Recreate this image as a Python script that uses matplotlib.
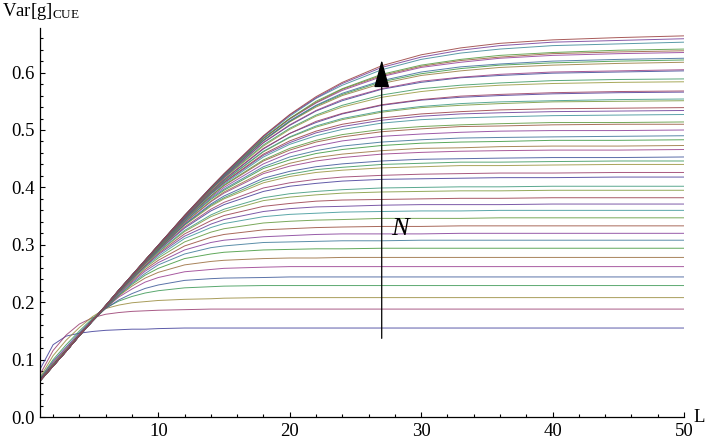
#!/usr/bin/env python3
"""Var[g]_CUE vs L for N = 2..50 (Mathematica-style ListLinePlot)."""

import colorsys

import matplotlib
matplotlib.use("Agg")
import matplotlib.pyplot as plt
import numpy as np

plt.rcParams["font.family"] = ["Liberation Serif", "DejaVu Serif"]
plt.rcParams["mathtext.fontset"] = "custom"
plt.rcParams["mathtext.rm"] = "Liberation Serif"
plt.rcParams["mathtext.it"] = "Liberation Serif:italic"

# ----- data -----
L_grid = [1, 2, 3, 4, 5, 6, 7, 8, 9, 10, 12, 14, 15, 18, 20, 22, 24, 27, 30, 33, 36, 40, 45, 50]
N_values = list(range(2, 51))

var_g = [
    [0.083, 0.126, 0.141, 0.146, 0.149, 0.151, 0.152, 0.153, 0.153, 0.154, 0.155, 0.155, 0.155, 0.155, 0.155, 0.155, 0.155, 0.155, 0.155, 0.155, 0.155, 0.155, 0.155, 0.155],  # N=2
    [0.074, 0.116, 0.143, 0.162, 0.173, 0.179, 0.182, 0.184, 0.185, 0.186, 0.187, 0.188, 0.188, 0.188, 0.188, 0.188, 0.188, 0.188, 0.188, 0.188, 0.188, 0.188, 0.188, 0.188],
    [0.069, 0.107, 0.134, 0.156, 0.175, 0.189, 0.195, 0.199, 0.201, 0.203, 0.205, 0.206, 0.207, 0.208, 0.208, 0.208, 0.208, 0.208, 0.208, 0.208, 0.208, 0.208, 0.208, 0.208],
    [0.067, 0.100, 0.126, 0.150, 0.172, 0.190, 0.202, 0.210, 0.216, 0.220, 0.225, 0.227, 0.228, 0.229, 0.229, 0.229, 0.229, 0.229, 0.229, 0.229, 0.229, 0.229, 0.229, 0.229],
    [0.066, 0.097, 0.122, 0.147, 0.170, 0.189, 0.204, 0.215, 0.224, 0.230, 0.238, 0.241, 0.242, 0.243, 0.244, 0.244, 0.244, 0.244, 0.244, 0.244, 0.244, 0.244, 0.244, 0.244],
    [0.065, 0.095, 0.120, 0.145, 0.169, 0.190, 0.209, 0.223, 0.235, 0.243, 0.253, 0.257, 0.259, 0.261, 0.262, 0.262, 0.262, 0.262, 0.262, 0.262, 0.262, 0.262, 0.262, 0.262],
    [0.065, 0.093, 0.118, 0.144, 0.168, 0.190, 0.211, 0.228, 0.242, 0.252, 0.265, 0.271, 0.273, 0.276, 0.277, 0.277, 0.278, 0.278, 0.278, 0.278, 0.278, 0.278, 0.278, 0.278],
    [0.064, 0.092, 0.117, 0.143, 0.167, 0.190, 0.212, 0.231, 0.247, 0.259, 0.276, 0.284, 0.287, 0.291, 0.292, 0.293, 0.293, 0.294, 0.294, 0.294, 0.294, 0.294, 0.294, 0.294],
    [0.064, 0.091, 0.116, 0.142, 0.167, 0.190, 0.213, 0.233, 0.250, 0.265, 0.284, 0.295, 0.298, 0.304, 0.305, 0.306, 0.307, 0.307, 0.308, 0.308, 0.308, 0.308, 0.308, 0.308],  # N=10
    [0.064, 0.090, 0.116, 0.142, 0.167, 0.191, 0.215, 0.235, 0.254, 0.269, 0.291, 0.304, 0.308, 0.314, 0.316, 0.318, 0.319, 0.319, 0.319, 0.320, 0.320, 0.320, 0.320, 0.320],
    [0.064, 0.090, 0.116, 0.142, 0.167, 0.191, 0.216, 0.237, 0.257, 0.273, 0.298, 0.313, 0.318, 0.326, 0.328, 0.330, 0.331, 0.332, 0.332, 0.333, 0.333, 0.333, 0.333, 0.333],
    [0.064, 0.090, 0.116, 0.142, 0.167, 0.192, 0.217, 0.239, 0.260, 0.277, 0.305, 0.322, 0.328, 0.338, 0.341, 0.343, 0.344, 0.346, 0.346, 0.346, 0.347, 0.347, 0.347, 0.347],
    [0.064, 0.090, 0.115, 0.142, 0.167, 0.192, 0.217, 0.240, 0.262, 0.280, 0.311, 0.330, 0.337, 0.349, 0.353, 0.355, 0.357, 0.358, 0.359, 0.359, 0.360, 0.360, 0.360, 0.360],
    [0.064, 0.090, 0.115, 0.142, 0.167, 0.193, 0.218, 0.241, 0.263, 0.283, 0.315, 0.336, 0.344, 0.358, 0.363, 0.366, 0.367, 0.369, 0.370, 0.370, 0.370, 0.371, 0.371, 0.371],
    [0.064, 0.090, 0.115, 0.142, 0.168, 0.193, 0.218, 0.242, 0.264, 0.285, 0.319, 0.342, 0.351, 0.367, 0.372, 0.376, 0.378, 0.379, 0.380, 0.381, 0.381, 0.382, 0.382, 0.382],
    [0.064, 0.090, 0.115, 0.142, 0.168, 0.193, 0.219, 0.243, 0.266, 0.287, 0.323, 0.349, 0.358, 0.377, 0.383, 0.387, 0.390, 0.392, 0.393, 0.394, 0.394, 0.395, 0.395, 0.395],
    [0.064, 0.090, 0.115, 0.142, 0.168, 0.193, 0.219, 0.243, 0.267, 0.288, 0.325, 0.352, 0.362, 0.382, 0.389, 0.393, 0.396, 0.399, 0.400, 0.401, 0.401, 0.402, 0.402, 0.402],
    [0.064, 0.090, 0.115, 0.142, 0.168, 0.193, 0.219, 0.244, 0.268, 0.290, 0.329, 0.359, 0.370, 0.393, 0.402, 0.407, 0.411, 0.414, 0.415, 0.416, 0.417, 0.417, 0.418, 0.418],
    [0.063, 0.089, 0.115, 0.142, 0.168, 0.193, 0.219, 0.244, 0.268, 0.291, 0.331, 0.362, 0.374, 0.399, 0.408, 0.414, 0.418, 0.421, 0.423, 0.424, 0.425, 0.425, 0.426, 0.426],  # N=20
    [0.063, 0.089, 0.115, 0.142, 0.168, 0.193, 0.220, 0.244, 0.269, 0.292, 0.334, 0.367, 0.380, 0.408, 0.419, 0.426, 0.430, 0.434, 0.436, 0.438, 0.438, 0.439, 0.440, 0.440],
    [0.063, 0.089, 0.115, 0.142, 0.168, 0.193, 0.220, 0.245, 0.269, 0.292, 0.335, 0.369, 0.382, 0.412, 0.423, 0.431, 0.435, 0.440, 0.442, 0.444, 0.444, 0.445, 0.446, 0.446],
    [0.063, 0.089, 0.115, 0.142, 0.168, 0.193, 0.220, 0.245, 0.270, 0.293, 0.336, 0.371, 0.385, 0.416, 0.428, 0.436, 0.441, 0.446, 0.449, 0.450, 0.451, 0.452, 0.452, 0.453],
    [0.063, 0.089, 0.115, 0.142, 0.168, 0.193, 0.220, 0.245, 0.270, 0.294, 0.338, 0.375, 0.390, 0.424, 0.437, 0.446, 0.452, 0.458, 0.461, 0.463, 0.464, 0.465, 0.465, 0.466],
    [0.063, 0.089, 0.115, 0.142, 0.168, 0.193, 0.220, 0.245, 0.270, 0.294, 0.339, 0.376, 0.392, 0.427, 0.442, 0.452, 0.458, 0.464, 0.468, 0.469, 0.471, 0.472, 0.472, 0.473],
    [0.063, 0.089, 0.115, 0.142, 0.168, 0.193, 0.220, 0.245, 0.271, 0.295, 0.341, 0.379, 0.395, 0.433, 0.448, 0.459, 0.466, 0.473, 0.477, 0.479, 0.480, 0.482, 0.482, 0.483],
    [0.063, 0.089, 0.115, 0.142, 0.168, 0.193, 0.220, 0.245, 0.271, 0.295, 0.341, 0.381, 0.397, 0.436, 0.453, 0.464, 0.472, 0.479, 0.483, 0.486, 0.487, 0.488, 0.489, 0.490],
    [0.063, 0.089, 0.115, 0.142, 0.168, 0.193, 0.220, 0.246, 0.271, 0.296, 0.343, 0.383, 0.400, 0.441, 0.460, 0.472, 0.481, 0.489, 0.493, 0.496, 0.498, 0.499, 0.499, 0.500],
    [0.063, 0.089, 0.115, 0.142, 0.168, 0.193, 0.220, 0.246, 0.272, 0.296, 0.344, 0.385, 0.403, 0.446, 0.465, 0.479, 0.488, 0.497, 0.502, 0.506, 0.507, 0.509, 0.510, 0.510],
    [0.063, 0.089, 0.115, 0.142, 0.168, 0.194, 0.220, 0.246, 0.272, 0.296, 0.344, 0.385, 0.404, 0.448, 0.468, 0.482, 0.492, 0.501, 0.506, 0.509, 0.511, 0.513, 0.513, 0.514],  # N=30
    [0.063, 0.089, 0.115, 0.142, 0.168, 0.194, 0.220, 0.246, 0.272, 0.297, 0.345, 0.388, 0.406, 0.453, 0.475, 0.490, 0.501, 0.512, 0.518, 0.521, 0.523, 0.525, 0.526, 0.527],
    [0.063, 0.089, 0.115, 0.142, 0.168, 0.194, 0.220, 0.246, 0.272, 0.297, 0.346, 0.389, 0.408, 0.456, 0.478, 0.495, 0.506, 0.517, 0.524, 0.528, 0.530, 0.532, 0.533, 0.534],
    [0.063, 0.089, 0.115, 0.142, 0.168, 0.194, 0.220, 0.246, 0.272, 0.297, 0.346, 0.390, 0.409, 0.458, 0.481, 0.498, 0.510, 0.521, 0.528, 0.532, 0.535, 0.537, 0.538, 0.539],
    [0.063, 0.089, 0.115, 0.142, 0.168, 0.194, 0.220, 0.246, 0.272, 0.297, 0.347, 0.391, 0.411, 0.462, 0.487, 0.505, 0.518, 0.531, 0.539, 0.543, 0.546, 0.549, 0.550, 0.551],
    [0.063, 0.089, 0.115, 0.142, 0.168, 0.194, 0.220, 0.246, 0.272, 0.297, 0.347, 0.391, 0.411, 0.463, 0.488, 0.507, 0.520, 0.533, 0.541, 0.546, 0.549, 0.551, 0.553, 0.554],
    [0.063, 0.089, 0.115, 0.142, 0.168, 0.194, 0.221, 0.246, 0.272, 0.298, 0.347, 0.393, 0.413, 0.467, 0.494, 0.513, 0.528, 0.543, 0.552, 0.557, 0.560, 0.563, 0.565, 0.566],
    [0.063, 0.089, 0.115, 0.142, 0.168, 0.194, 0.221, 0.246, 0.272, 0.298, 0.348, 0.393, 0.414, 0.468, 0.494, 0.515, 0.529, 0.544, 0.553, 0.559, 0.562, 0.565, 0.567, 0.568],
    [0.063, 0.089, 0.115, 0.142, 0.168, 0.194, 0.221, 0.246, 0.273, 0.298, 0.349, 0.395, 0.416, 0.472, 0.501, 0.524, 0.540, 0.557, 0.567, 0.574, 0.578, 0.581, 0.583, 0.584],
    [0.063, 0.089, 0.115, 0.142, 0.168, 0.194, 0.221, 0.246, 0.273, 0.298, 0.349, 0.396, 0.417, 0.474, 0.503, 0.526, 0.543, 0.561, 0.572, 0.578, 0.582, 0.586, 0.588, 0.589],
    [0.063, 0.089, 0.115, 0.142, 0.168, 0.194, 0.221, 0.246, 0.273, 0.298, 0.349, 0.397, 0.418, 0.478, 0.508, 0.533, 0.551, 0.571, 0.583, 0.591, 0.595, 0.599, 0.601, 0.603],  # N=40
    [0.063, 0.089, 0.115, 0.142, 0.168, 0.194, 0.221, 0.247, 0.273, 0.298, 0.349, 0.397, 0.418, 0.478, 0.509, 0.534, 0.553, 0.572, 0.585, 0.592, 0.597, 0.601, 0.603, 0.605],
    [0.063, 0.089, 0.115, 0.142, 0.168, 0.194, 0.221, 0.247, 0.273, 0.299, 0.350, 0.397, 0.420, 0.481, 0.514, 0.540, 0.560, 0.581, 0.595, 0.603, 0.609, 0.613, 0.616, 0.618],
    [0.063, 0.089, 0.115, 0.142, 0.168, 0.194, 0.221, 0.247, 0.273, 0.299, 0.350, 0.398, 0.420, 0.482, 0.515, 0.542, 0.562, 0.584, 0.598, 0.607, 0.613, 0.617, 0.620, 0.622],
    [0.063, 0.089, 0.115, 0.142, 0.168, 0.194, 0.221, 0.247, 0.273, 0.299, 0.350, 0.398, 0.420, 0.482, 0.516, 0.543, 0.564, 0.586, 0.601, 0.610, 0.615, 0.620, 0.623, 0.625],
    [0.063, 0.089, 0.115, 0.142, 0.168, 0.194, 0.221, 0.247, 0.273, 0.299, 0.350, 0.399, 0.422, 0.485, 0.519, 0.547, 0.569, 0.593, 0.609, 0.618, 0.625, 0.630, 0.633, 0.635],
    [0.063, 0.089, 0.115, 0.142, 0.168, 0.194, 0.221, 0.247, 0.273, 0.299, 0.350, 0.399, 0.422, 0.485, 0.520, 0.548, 0.571, 0.595, 0.611, 0.621, 0.627, 0.633, 0.636, 0.638],
    [0.063, 0.089, 0.115, 0.142, 0.168, 0.194, 0.221, 0.247, 0.273, 0.299, 0.351, 0.399, 0.422, 0.486, 0.520, 0.550, 0.572, 0.597, 0.613, 0.623, 0.630, 0.635, 0.639, 0.641],
    [0.063, 0.089, 0.115, 0.142, 0.168, 0.194, 0.221, 0.247, 0.273, 0.299, 0.351, 0.400, 0.423, 0.488, 0.524, 0.555, 0.578, 0.605, 0.623, 0.634, 0.641, 0.647, 0.650, 0.653],
    [0.063, 0.089, 0.115, 0.142, 0.168, 0.194, 0.221, 0.247, 0.273, 0.299, 0.351, 0.400, 0.423, 0.489, 0.526, 0.556, 0.581, 0.609, 0.627, 0.639, 0.647, 0.653, 0.656, 0.659],
    [0.063, 0.089, 0.115, 0.142, 0.168, 0.194, 0.221, 0.247, 0.273, 0.299, 0.351, 0.400, 0.424, 0.490, 0.527, 0.558, 0.583, 0.612, 0.631, 0.643, 0.651, 0.657, 0.661, 0.664],  # N=50
]

y_ticks = [0.0, 0.1, 0.2, 0.3, 0.4, 0.5, 0.6]
x_ticks = [10, 20, 30, 40, 50]

arrow_L = 27
arrow_from, arrow_to = 0.137, 0.622


def mma_color(i):
    # Mathematica's old default plot palette (hue steps of sqrt(5)-2)
    h = (0.67 + 0.2360680 * i) % 1.0
    return colorsys.hsv_to_rgb(h, 0.6, 0.6)


fig = plt.figure(figsize=(7.06, 4.40), dpi=100)
ax = fig.add_axes([40 / 706, 23 / 440, 644 / 706, 389 / 440])

for i, vals in enumerate(var_g):
    ax.plot(L_grid, vals, color=mma_color(i), lw=0.7, alpha=0.85,
            solid_joinstyle="round")

ax.set_xlim(1, 50)
ax.set_ylim(0, 0.6777)
for side in ("top", "right"):
    ax.spines[side].set_visible(False)
for side in ("left", "bottom"):
    ax.spines[side].set_linewidth(0.9)

ax.set_xticks(x_ticks)
ax.set_xticks(np.arange(2, 51, 2), minor=True)
ax.set_yticks(y_ticks)
ax.set_yticklabels([f"{v:.1f}" for v in y_ticks])
ax.set_yticks(np.arange(0.02, 0.67, 0.02), minor=True)
ax.tick_params(which="both", direction="in", labelsize=13.5, width=0.8)
ax.tick_params(which="major", length=3.6)
ax.tick_params(which="minor", length=1.9)
ax.tick_params(axis="y", pad=3.6)
ax.tick_params(axis="x", pad=4)

ax.annotate("", xy=(arrow_L, arrow_to), xytext=(arrow_L, arrow_from),
            arrowprops=dict(arrowstyle="-|>,head_length=0.87,head_width=0.24",
                            mutation_scale=20, lw=0.9, color="black",
                            shrinkA=0, shrinkB=0))
ax.text(28.4, 0.328, "N", fontstyle="italic", fontsize=19, ha="center", va="center")

ax.annotate("L", xy=(1, 0), xycoords="axes fraction", xytext=(9, 0),
            textcoords="offset pixels", ha="left", va="center", fontsize=13.5)
fig.text(2 / 706, 1 - 15.7 / 440, r"$\mathrm{Var[g]}_{\mathrm{CUE}}$",
         fontsize=13.5, ha="left", va="baseline")

fig.savefig("out.png", dpi=100)
